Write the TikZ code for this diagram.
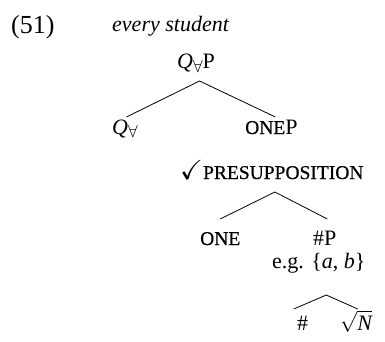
\documentclass[tikz,border=0pt]{standalone}
\usepackage{amssymb}
\usepackage{fontspec}
\setmainfont{Liberation Serif}
\usetikzlibrary{calc}
\newcommand\fsc[1]{{\fontsize{19.5}{19.5}\selectfont\addfontfeature{FakeBold=0.6}#1}}
\newcommand\fa{\raisebox{-3.5pt}{\fontsize{16}{16}\selectfont$\forall$}}
\begin{document}
\begin{tikzpicture}[x=1pt,y=-1pt,
  every node/.style={inner sep=0pt,anchor=base west,font=\fontsize{22}{26}\selectfont},
  edge/.style={draw=black,line width=0.8pt}]
\useasboundingbox (0,0) rectangle (385,342);
\node[font=\fontsize{26}{30}\selectfont] (ex) at (11,34) {(51)};
\node (gloss) at (112,32) {\itshape every student};
\node (root) at (177,69) {\textit{Q}\fa P};
\node (qa) at (112,134) {\textit{Q}\fa};
\node (onep) at (245,134) {\fsc{ONE}P};
\node (presup) at (180,179) {\scalebox{1.25}{$\checkmark$}\fsc{PRESUPPOSITION}};
\node (one) at (200,245) {\fsc{ONE}};
\node (hp) at (313,245) {\#P};
\node (eg) at (272,268) {e.g. \{\textit{a}, \textit{b}\}};
\node (hash) at (297,330) {\#};
\node (rootN) at (340,330) {$\sqrt{\hbox{\itshape N}}$};
\draw[edge] ($(qa.base)+(1.5,-17)$) -- ($(root.base)+(3.5,12)$) -- ($(onep.base)+(4,-17)$);
\draw[edge] ($(one.base)+(0,-26)$) -- ($(presup.base)+(3,13)$) -- ($(hp.base)+(2.5,-26)$);
\draw[edge] ($(hash.base)+(-9,-21)$) -- ($(eg.base)+(7.5,27)$) -- ($(rootN.base)+(1.5,-21)$);
\end{tikzpicture}
\end{document}
